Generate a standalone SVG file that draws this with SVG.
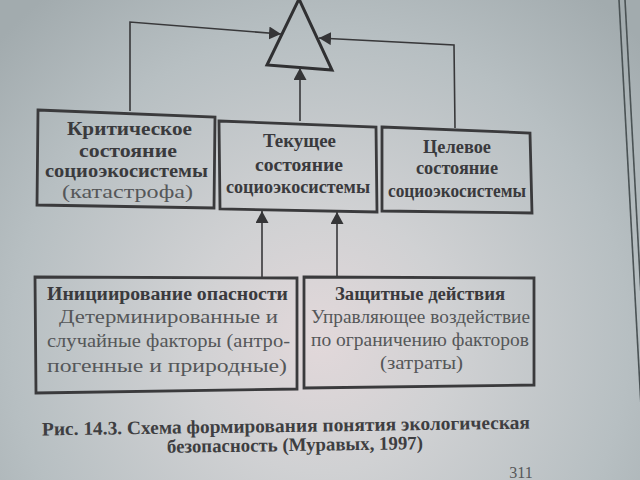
<svg xmlns="http://www.w3.org/2000/svg" width="640" height="480" viewBox="0 0 640 480">
<defs>
<radialGradient id="bg" cx="320" cy="340" r="440" gradientUnits="userSpaceOnUse">
<stop offset="0" stop-color="#e2d8da"/>
<stop offset="0.3" stop-color="#d0d1d3"/>
<stop offset="0.7" stop-color="#b7bfc2"/>
<stop offset="1" stop-color="#a2abae"/>
</radialGradient>
<marker id="ah" markerUnits="userSpaceOnUse" markerWidth="13" markerHeight="13" refX="12" refY="6.5" orient="auto" viewBox="0 0 13 13">
<path d="M0,0 L12,6.5 L0,13 z" fill="#353537"/>
</marker>
<style>
.box{fill:none;stroke:#3a3a3c;stroke-width:2.8;stroke-linejoin:miter}
.tri{fill:none;stroke:#303032;stroke-width:3}
.con{fill:none;stroke:#38383a;stroke-width:1.6}
.edge{fill:none;stroke:#4a5254;stroke-width:1.6}
text{font-family:"Liberation Serif","Times New Roman",serif;text-anchor:middle}
.b{font-weight:bold;fill:#3a3a3d}
.r{fill:#555759}
.big{font-size:18px}
.mid{font-size:18px}
.low{font-size:18px}
.cap{font-size:19px;font-weight:bold;fill:#3e3e41}
</style>
</defs>
<rect x="0" y="0" width="640" height="480" fill="url(#bg)"/>
<line class="edge" x1="619" y1="0" x2="645" y2="480"/>
<line class="edge" x1="625" y1="0" x2="651" y2="480"/>

<g id="triangle">
<polygon class="tri" points="299,-1 267,65 332,70"/>
</g>

<g id="connectors">
<polyline class="con" points="130,111 130,22 281,34" marker-end="url(#ah)"/>
<polyline class="con" points="455,128 454,45 319,38" marker-end="url(#ah)"/>
<line class="con" x1="300" y1="121" x2="300" y2="68" marker-end="url(#ah)"/>
<line class="con" x1="262" y1="277" x2="262" y2="211" marker-end="url(#ah)"/>
<line class="con" x1="337" y1="277" x2="337" y2="212" marker-end="url(#ah)"/>
</g>

<g id="critical">
<polygon class="box" points="38,110 215,117 214,208 37,205"/>
<text class="b big" x="129.5" y="135" textLength="125" lengthAdjust="spacingAndGlyphs">Критическое</text>
<text class="b big" x="128" y="157" textLength="98" lengthAdjust="spacingAndGlyphs">состояние</text>
<text class="b big" x="126.5" y="177" textLength="163" lengthAdjust="spacingAndGlyphs">социоэкосистемы</text>
<text class="r big" x="127.5" y="198" textLength="131" lengthAdjust="spacingAndGlyphs">(катастрофа)</text>
</g>

<g id="current">
<polygon class="box" points="219,121 376,127 377,212 220,209"/>
<text class="b mid" x="299.5" y="147" textLength="73" lengthAdjust="spacingAndGlyphs">Текущее</text>
<text class="b mid" x="299" y="171" textLength="88" lengthAdjust="spacingAndGlyphs">состояние</text>
<text class="b mid" x="298" y="193" textLength="144" lengthAdjust="spacingAndGlyphs">социоэкосистемы</text>
</g>

<g id="target">
<polygon class="box" points="382,127 530,133 532,213 382,211"/>
<text class="b mid" x="457" y="153" textLength="68" lengthAdjust="spacingAndGlyphs">Целевое</text>
<text class="b mid" x="457" y="174" textLength="82" lengthAdjust="spacingAndGlyphs">состояние</text>
<text class="b mid" x="457" y="197" textLength="138" lengthAdjust="spacingAndGlyphs">социоэкосистемы</text>
</g>

<g id="hazard">
<polygon class="box" points="35,277 297,278 297,389 36,393"/>
<text class="b low" x="167.5" y="300" textLength="241" lengthAdjust="spacingAndGlyphs">Инициирование опасности</text>
<text class="r low" x="168.5" y="323" textLength="219" lengthAdjust="spacingAndGlyphs">Детерминированные и</text>
<text class="r low" x="168.5" y="347" textLength="243" lengthAdjust="spacingAndGlyphs">случайные факторы (антро-</text>
<text class="r low" x="167" y="372" textLength="240" lengthAdjust="spacingAndGlyphs">погенные и природные)</text>
</g>

<g id="protection">
<polygon class="box" points="304,277 534,278 534,385 304,388"/>
<text class="b low" x="420" y="300" textLength="170" lengthAdjust="spacingAndGlyphs">Защитные действия</text>
<text class="r low" x="420.5" y="323" textLength="219" lengthAdjust="spacingAndGlyphs">Управляющее воздействие</text>
<text class="r low" x="420" y="346" textLength="218" lengthAdjust="spacingAndGlyphs">по ограничению факторов</text>
<text class="r low" x="421.5" y="369" textLength="83" lengthAdjust="spacingAndGlyphs">(затраты)</text>
</g>

<g id="caption">
<text class="cap" x="286" y="432" textLength="488" lengthAdjust="spacingAndGlyphs" transform="rotate(-0.8 286 432)">Рис. 14.3. Схема формирования понятия экологическая</text>
<text class="cap" x="295" y="451" textLength="256" lengthAdjust="spacingAndGlyphs" transform="rotate(-0.8 295 451)">безопасность (Муравых, 1997)</text>
<text class="r" x="521" y="478" style="font-size:16px">311</text>
</g>
</svg>
